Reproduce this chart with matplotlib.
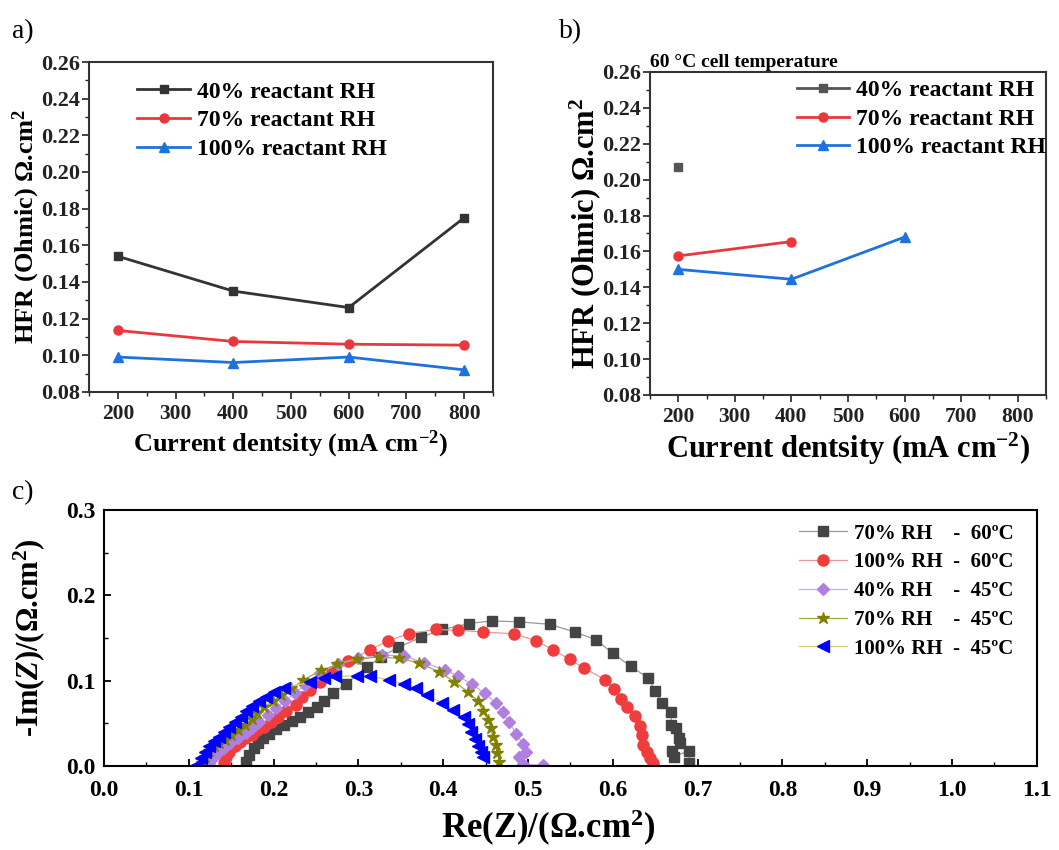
import matplotlib
matplotlib.use("Agg")
import matplotlib.pyplot as plt
import numpy as np
from matplotlib.ticker import MultipleLocator, FormatStrFormatter

plt.rcParams['font.family'] = ['Liberation Serif', 'DejaVu Serif']
plt.rcParams['font.weight'] = 'bold'
plt.rcParams['mathtext.fontset'] = 'custom'
plt.rcParams['mathtext.rm'] = 'Liberation Serif:bold'
plt.rcParams['mathtext.it'] = 'Liberation Serif:italic:bold'
plt.rcParams['mathtext.bf'] = 'Liberation Serif:bold'

# ---------------- data ----------------
current = [200, 400, 600, 800]
a_rh40 = [0.154, 0.135, 0.126, 0.175]
a_rh70 = [0.1135, 0.1075, 0.106, 0.1055]
a_rh100 = [0.099, 0.096, 0.099, 0.092]

b_x40 = [200]
b_rh40 = [0.207]
b_x70 = [200, 400]
b_rh70 = [0.1575, 0.1655]
b_x100 = [200, 400, 600]
b_rh100 = [0.150, 0.1445, 0.168]

labels_ab = ['40% reactant RH', '70% reactant RH', '100% reactant RH']

# Nyquist data (Re, -Im)
re_70_60 = [0.167, 0.171, 0.177, 0.182, 0.188, 0.195, 0.203, 0.212, 0.222, 0.231, 0.241, 0.251, 0.260,
            0.270, 0.285, 0.310, 0.327, 0.347, 0.374, 0.399, 0.431, 0.457, 0.489, 0.526, 0.555, 0.580,
            0.600, 0.621, 0.642, 0.650, 0.658, 0.669, 0.669, 0.674, 0.678, 0.679, 0.670, 0.672, 0.690, 0.690]
im_70_60 = [0.005, 0.013, 0.021, 0.027, 0.033, 0.038, 0.043, 0.048, 0.053, 0.058, 0.063, 0.069, 0.076,
            0.085, 0.096, 0.116, 0.128, 0.139, 0.151, 0.160, 0.167, 0.170, 0.169, 0.166, 0.157, 0.148,
            0.132, 0.117, 0.103, 0.088, 0.074, 0.063, 0.048, 0.044, 0.033, 0.027, 0.018, 0.011, 0.018, 0.004]

re_100_60 = [0.142, 0.144, 0.148, 0.154, 0.160, 0.166, 0.174, 0.181, 0.189, 0.197, 0.205, 0.215, 0.226,
             0.233, 0.243, 0.255, 0.269, 0.288, 0.314, 0.335, 0.360, 0.391, 0.417, 0.447, 0.483, 0.509,
             0.530, 0.549, 0.566, 0.591, 0.602, 0.610, 0.617, 0.626, 0.632, 0.634, 0.636, 0.640, 0.644, 0.647]
im_100_60 = [0.004, 0.011, 0.017, 0.023, 0.028, 0.033, 0.036, 0.042, 0.046, 0.052, 0.057, 0.065, 0.072,
             0.081, 0.089, 0.099, 0.110, 0.123, 0.136, 0.147, 0.155, 0.160, 0.159, 0.157, 0.155, 0.147,
             0.136, 0.125, 0.115, 0.101, 0.090, 0.079, 0.069, 0.059, 0.047, 0.036, 0.025, 0.017, 0.009, 0.004]

re_40_45 = [0.124, 0.128, 0.134, 0.141, 0.149, 0.158, 0.167, 0.175, 0.183, 0.193, 0.203, 0.213, 0.225,
            0.237, 0.255, 0.276, 0.300, 0.328, 0.354, 0.377, 0.402, 0.418, 0.434, 0.449, 0.462, 0.470,
            0.478, 0.486, 0.494, 0.498, 0.490, 0.494, 0.518]
im_40_45 = [0.003, 0.009, 0.015, 0.021, 0.027, 0.033, 0.039, 0.045, 0.052, 0.060, 0.068, 0.076, 0.085,
            0.095, 0.109, 0.120, 0.126, 0.130, 0.129, 0.121, 0.113, 0.105, 0.096, 0.085, 0.074, 0.063,
            0.051, 0.038, 0.026, 0.016, 0.010, 0.002, 0.001]

re_70_45 = [0.116, 0.119, 0.124, 0.130, 0.136, 0.143, 0.150, 0.158, 0.166, 0.174, 0.181, 0.189, 0.199,
            0.209, 0.221, 0.235, 0.256, 0.275, 0.298, 0.324, 0.348, 0.372, 0.395, 0.413, 0.429, 0.441,
            0.447, 0.453, 0.456, 0.459, 0.462, 0.464, 0.466]
im_70_45 = [0.003, 0.011, 0.018, 0.023, 0.027, 0.031, 0.036, 0.042, 0.048, 0.055, 0.062, 0.069, 0.076,
            0.083, 0.091, 0.101, 0.112, 0.119, 0.125, 0.128, 0.126, 0.121, 0.110, 0.099, 0.087, 0.076,
            0.064, 0.054, 0.044, 0.034, 0.025, 0.015, 0.005]

re_100_45 = [0.110, 0.114, 0.119, 0.124, 0.130, 0.136, 0.142, 0.148, 0.154, 0.161, 0.168, 0.175, 0.183,
             0.191, 0.201, 0.212, 0.243, 0.259, 0.273, 0.298, 0.314, 0.336, 0.354, 0.368, 0.381, 0.399,
             0.411, 0.424, 0.429, 0.433, 0.437, 0.441, 0.445, 0.447]
im_100_45 = [0.001, 0.009, 0.016, 0.023, 0.029, 0.034, 0.040, 0.046, 0.052, 0.058, 0.064, 0.070, 0.076,
             0.081, 0.087, 0.092, 0.098, 0.103, 0.105, 0.1057, 0.105, 0.101, 0.096, 0.091, 0.083, 0.074,
             0.066, 0.057, 0.049, 0.040, 0.032, 0.024, 0.016, 0.011]

labels_c = ['70% RH    -  60ºC', '100% RH  -  60ºC', '40% RH    -  45ºC',
            '70% RH    -  45ºC', '100% RH  -  45ºC']

# ---------------- figure ----------------
fig = plt.figure(figsize=(10.59, 8.5), dpi=100)

c_black = '#333333'
c_red = '#e8383d'
c_blue = '#1f72dc'

def style_ab(ax, xlabsize, ylabsize, ylab_x, xlab_y):
    ax.set_xlim(150, 850)
    ax.set_ylim(0.08, 0.26)
    ax.set_xticks([200, 300, 400, 500, 600, 700, 800])
    ax.xaxis.set_minor_locator(MultipleLocator(50))
    ax.set_yticks(np.arange(0.08, 0.261, 0.02))
    ax.yaxis.set_minor_locator(MultipleLocator(0.01))
    ax.yaxis.set_major_formatter(FormatStrFormatter('%.2f'))
    ax.tick_params(which='major', direction='out', length=5, width=1.2, colors='#222222')
    ax.tick_params(which='minor', direction='out', length=3, width=1.0, colors='#222222')
    ax.tick_params(axis='x', which='major', labelsize=15.5, pad=4)
    ax.tick_params(axis='y', which='major', labelsize=16, pad=1.5)
    for s in ax.spines.values():
        s.set_linewidth(1.5)
        s.set_color('#333333')
    for t in ax.get_xticklabels() + ax.get_yticklabels():
        t.set_fontweight('bold')
    ax.set_xlabel('Current dentsity (mA cm$^{-2}$)', fontsize=xlabsize, fontweight='bold')
    ax.set_ylabel('HFR (Ohmic) Ω.cm$^{2}$', fontsize=ylabsize, fontweight='bold')
    ax.yaxis.set_label_coords(ylab_x, 0.5)
    ax.xaxis.set_label_coords(0.5, xlab_y)

# Panel a
axa = fig.add_axes([0.084, 0.539, 0.3815, 0.388])
axa.plot(current, a_rh40, '-s', color=c_black, lw=2, ms=6, label=labels_ab[0])
axa.plot(current, a_rh70, '-o', color=c_red, lw=2, ms=6.5, label=labels_ab[1])
axa.plot(current, a_rh100, '-^', color=c_blue, lw=2, ms=6.5, label=labels_ab[2])
style_ab(axa, 19, 19, -0.115, -0.113)
axa.legend(loc='upper left', bbox_to_anchor=(0.119, 0.942), frameon=False, fontsize=17,
           handlelength=2.25, handletextpad=0.3, labelspacing=0.3, borderaxespad=0, borderpad=0)

# Panel b
axb = fig.add_axes([0.6138, 0.5353, 0.3739, 0.38])
axb.plot(b_x40, b_rh40, '-s', color='#555555', lw=2, ms=6, label=labels_ab[0])
axb.plot(b_x70, b_rh70, '-o', color=c_red, lw=2, ms=6.5, label=labels_ab[1])
axb.plot(b_x100, b_rh100, '-^', color=c_blue, lw=2, ms=6.5, label=labels_ab[2])
style_ab(axb, 22, 22, -0.118, -0.11)
axb.legend(loc='upper left', bbox_to_anchor=(0.371, 0.976), frameon=False, fontsize=17,
           handlelength=2.2, handletextpad=0.3, labelspacing=0.3, borderaxespad=0, borderpad=0)
axb.text(0.0, 1.004, '60 °C cell temperature', transform=axb.transAxes, fontsize=14,
         fontweight='bold', ha='left', va='bottom')

# Panel c
axc = fig.add_axes([0.0982, 0.0988, 0.8808, 0.3012])
axc.plot(re_70_60, im_70_60, '-s', color='#999999', mfc='#444444', mec='#444444', lw=0.9, ms=7, label=labels_c[0])
axc.plot(re_100_60, im_100_60, '-o', color='#e89a9a', mfc='#f03c3c', mec='#f03c3c', lw=0.9, ms=8, label=labels_c[1])
axc.plot(re_40_45, im_40_45, '-D', color='#c9a8e8', mfc='#b07fe0', mec='#b07fe0', lw=0.9, ms=6.5, label=labels_c[2])
axc.plot(re_70_45, im_70_45, '-*', color='#a8a840', mfc='#808000', mec='#808000', lw=0.9, ms=9, label=labels_c[3])
axc.plot(re_100_45, im_100_45, '-<', color='#d8d070', mfc='#0000ff', mec='#0000ff', lw=0.9, ms=8, label=labels_c[4])
axc.set_xlim(0, 1.1)
axc.set_ylim(0, 0.3)
axc.set_xticks(np.arange(0, 1.101, 0.1))
axc.set_yticks([0.0, 0.1, 0.2, 0.3])
axc.xaxis.set_minor_locator(MultipleLocator(0.05))
axc.yaxis.set_minor_locator(MultipleLocator(0.05))
axc.xaxis.set_major_formatter(FormatStrFormatter('%.1f'))
axc.yaxis.set_major_formatter(FormatStrFormatter('%.1f'))
axc.tick_params(which='major', direction='in', length=5, width=1.3, labelsize=17)
axc.tick_params(which='minor', direction='in', length=3, width=1.0)
axc.tick_params(axis='x', which='major', pad=10)
axc.tick_params(axis='y', which='major', pad=6)
for s in axc.spines.values():
    s.set_linewidth(1.5)
for t in axc.get_xticklabels() + axc.get_yticklabels():
    t.set_fontweight('bold')
axc.set_xlabel('Re(Z)/(Ω.cm$^{2}$)', fontsize=25, fontweight='bold')
axc.set_ylabel('-Im($Z$)/(Ω.cm$^{2}$)', fontsize=22, fontweight='bold')
axc.xaxis.set_label_coords(0.476, -0.165)
axc.yaxis.set_label_coords(-0.061, 0.5)
axc.legend(loc='upper left', bbox_to_anchor=(0.745, 0.947), frameon=False, fontsize=15,
           handlelength=2.3, handletextpad=0.35, labelspacing=0.42, borderaxespad=0, borderpad=0)

fig.text(0.011, 0.963, 'a)', fontsize=20, fontweight='normal', ha='left', va='center')
fig.text(0.528, 0.963, 'b)', fontsize=20, fontweight='normal', ha='left', va='center')
fig.text(0.011, 0.421, 'c)', fontsize=20, fontweight='normal', ha='left', va='center')

fig.savefig('out.png', dpi=100)
